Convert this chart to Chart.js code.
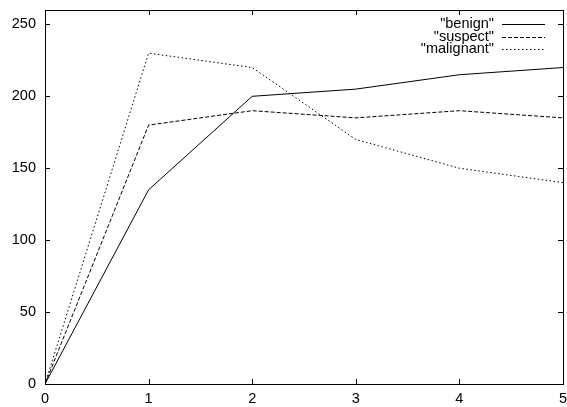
<!DOCTYPE html>
<html>
<head>
<meta charset="utf-8">
<script src="https://cdn.jsdelivr.net/npm/chart.js@4/dist/chart.umd.min.js"></script>
<style>
  html, body { margin: 0; padding: 0; background: #fff; }
  #wrap { width: 567px; height: 407px; }
</style>
</head>
<body>
<div id="wrap"><canvas id="c"></canvas></div>
<script>
var xs = [0, 1, 2, 3, 4, 5];
var benign = [0, 135, 200, 205, 215, 220];
var suspect = [0, 180, 190, 185, 190, 185];
var malignant = [0, 230, 220, 170, 150, 140];
var names = ['"benign"', '"suspect"', '"malignant"'];
var xTicks = [0, 1, 2, 3, 4, 5];
var yTicks = [0, 50, 100, 150, 200, 250];

var FAMILY = '"Liberation Sans", Arial, sans-serif';
var SIZE = 14.5;
var FONT = SIZE + 'px ' + FAMILY;

function pts(vals) {
  return vals.map(function (v, i) { return { x: xs[i], y: v }; });
}

// gnuplot style frame with inward ticks on all four sides, plus the key
var frame = {
  id: 'frame',
  afterDraw: function (chart) {
    var ctx = chart.ctx, a = chart.chartArea;
    var sx = chart.scales.x, sy = chart.scales.y;
    ctx.save();
    ctx.strokeStyle = '#000';
    ctx.lineWidth = 1;
    ctx.setLineDash([]);
    ctx.strokeRect(Math.round(a.left) + 0.5, Math.round(a.top) + 0.5,
      Math.round(a.right - a.left), Math.round(a.bottom - a.top));
    ctx.beginPath();
    xTicks.forEach(function (t) {
      var px = Math.round(sx.getPixelForValue(t)) + 0.5;
      ctx.moveTo(px, a.bottom); ctx.lineTo(px, a.bottom - 5);
      ctx.moveTo(px, a.top); ctx.lineTo(px, a.top + 5);
    });
    yTicks.forEach(function (t) {
      var py = Math.round(sy.getPixelForValue(t)) + 0.5;
      ctx.moveTo(a.left, py); ctx.lineTo(a.left + 5, py);
      ctx.moveTo(a.right, py); ctx.lineTo(a.right - 5, py);
    });
    ctx.stroke();

    // key
    ctx.font = FONT;
    ctx.fillStyle = '#000';
    ctx.textAlign = 'right';
    ctx.textBaseline = 'middle';
    var ds = chart.data.datasets;
    for (var i = 0; i < ds.length; i++) {
      var y = a.top + 14 + i * 12.5;
      ctx.fillText(names[i], 494, y);
      ctx.beginPath();
      ctx.setLineDash(ds[i].borderDash || []);
      ctx.moveTo(502, Math.round(y) + 0.5);
      ctx.lineTo(545, Math.round(y) + 0.5);
      ctx.stroke();
    }
    ctx.restore();
  }
};

new Chart(document.getElementById('c'), {
  type: 'line',
  data: {
    datasets: [
      { label: names[0], data: pts(benign), borderDash: [] },
      { label: names[1], data: pts(suspect), borderDash: [4, 2] },
      { label: names[2], data: pts(malignant), borderDash: [1.5, 2.5] }
    ].map(function (d) {
      d.borderColor = '#000';
      d.borderWidth = 1;
      d.pointRadius = 0;
      d.tension = 0;
      d.fill = false;
      return d;
    })
  },
  options: {
    responsive: true,
    maintainAspectRatio: false,
    animation: false,
    layout: { padding: { top: 10, right: 4, left: 0, bottom: 0 } },
    plugins: { legend: { display: false }, tooltip: { enabled: false } },
    scales: {
      x: {
        type: 'linear', min: 0, max: 5,
        afterBuildTicks: function (s) { s.ticks = xTicks.map(function (v) { return { value: v }; }); },
        afterFit: function (s) { s.height = 23; s.paddingLeft = 0; s.paddingRight = 0; },
        grid: { display: false, drawTicks: false, tickLength: 0 },
        border: { display: false },
        ticks: { color: '#000', font: { family: FAMILY, size: SIZE }, padding: 6, maxRotation: 0 }
      },
      y: {
        min: 0, max: 260,
        afterBuildTicks: function (s) { s.ticks = yTicks.map(function (v) { return { value: v }; }); },
        afterFit: function (s) { s.width = 45; s.paddingTop = 0; s.paddingBottom = 0; },
        grid: { display: false, drawTicks: false, tickLength: 0 },
        border: { display: false },
        ticks: { color: '#000', font: { family: FAMILY, size: SIZE }, padding: 9 }
      }
    }
  },
  plugins: [frame]
});
</script>
</body>
</html>
